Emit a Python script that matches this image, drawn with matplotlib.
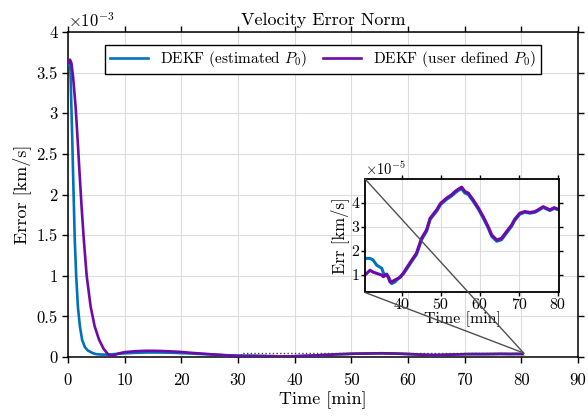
import numpy as np
import matplotlib
matplotlib.use('Agg')
import matplotlib.pyplot as plt
from matplotlib.patches import Rectangle, ConnectionPatch
from matplotlib.ticker import FormatStrFormatter

plt.rcParams['font.family'] = ['cmr10', 'DejaVu Serif']
plt.rcParams['mathtext.fontset'] = 'cm'
plt.rcParams['axes.unicode_minus'] = False

# early transient, values in 1e-3 km/s
t_est_early = [0.15, 0.3, 0.45, 0.6, 0.75, 0.9, 1.05, 1.2, 1.45, 1.75, 2.1, 2.5, 3.0, 3.5,
               4.3, 5.0, 6.0, 7.0, 8.0, 10.0, 12.0, 14.0, 16.0, 18.0, 20.0, 22.0, 25.0, 28.0]
e_est_early = [3.6, 3.65, 3.5, 3.08, 2.7, 2.26, 1.85, 1.44, 1.0, 0.62, 0.38, 0.21, 0.12, 0.08,
               0.05, 0.035, 0.03, 0.03, 0.035, 0.045, 0.052, 0.056, 0.056, 0.053, 0.048, 0.042, 0.032, 0.022]
t_usr_early = [0.15, 0.35, 0.6, 0.9, 1.35, 1.7, 2.05, 2.4, 2.8, 3.3, 4.0, 4.7, 5.5, 6.3,
               7.0, 7.6, 8.2, 9.0, 10.0, 12.0, 14.0, 16.0, 18.0, 20.0, 22.0, 25.0, 28.0]
e_usr_early = [3.62, 3.66, 3.62, 3.45, 3.08, 2.68, 2.26, 1.85, 1.44, 1.0, 0.62, 0.38, 0.21, 0.1,
               0.04, 0.01, 0.025, 0.045, 0.06, 0.072, 0.077, 0.075, 0.07, 0.062, 0.05, 0.035, 0.02]

# steady state part (zoomed), values in 1e-5 km/s
t_late = [30.6, 31.9, 32.7, 33.6, 34.9, 35.3, 35.7, 36.2, 36.6, 37.0, 37.4, 37.9, 38.3, 39.1, 39.6,
          40.4, 41.5, 42.6, 43.8, 45.1, 46.4, 47.3, 49.0, 50.0, 51.5, 52.8, 53.7, 54.5, 55.4,
          56.2, 57.1, 58.4, 59.7, 60.9, 62.2, 63.1, 64.4, 65.6, 66.9, 68.2, 69.0, 70.3, 71.6,
          72.9, 74.2, 75.0, 76.3, 77.2, 78.0, 79.1, 80.2]
e_usr_late = [1.0, 1.2, 1.12, 1.07, 1.0, 0.93, 0.98, 1.04, 0.9, 0.72, 0.7, 0.76, 0.8, 0.86, 0.9,
              1.07, 1.35, 1.62, 1.9, 2.52, 2.87, 3.35, 3.7, 3.97, 4.18, 4.32, 4.46, 4.55, 4.64,
              4.46, 4.39, 4.1, 3.77, 3.42, 3.0, 2.66, 2.45, 2.52, 2.8, 3.07, 3.31, 3.56, 3.63,
              3.59, 3.63, 3.7, 3.83, 3.76, 3.7, 3.79, 3.72]
e_est_late = [1.69, 1.69, 1.62, 1.41, 1.28, 1.1, 1.0, 0.97, 0.93, 0.8, 0.65, 0.68, 0.72, 0.85, 0.93,
              1.04, 1.3, 1.57, 1.85, 2.46, 2.82, 3.3, 3.65, 3.92, 4.13, 4.27, 4.4, 4.5, 4.57,
              4.4, 4.33, 4.04, 3.72, 3.37, 2.95, 2.6, 2.4, 2.46, 2.74, 3.02, 3.26, 3.52, 3.6,
              3.56, 3.6, 3.67, 3.8, 3.73, 3.67, 3.76, 3.7]

c_est = '#0072BD'
c_usr = '#6C0BA9'

t_est = np.array(t_est_early + t_late)
y_est = np.array(e_est_early + [v * 1e-2 for v in e_est_late])  # in 1e-3
t_usr = np.array(t_usr_early + t_late)
y_usr = np.array(e_usr_early + [v * 1e-2 for v in e_usr_late])

fig = plt.figure(figsize=(5.88, 4.16), dpi=100)
ax = fig.add_axes([0.1156, 0.1418, 0.8674, 0.7812])

ax.plot(t_est, y_est, color=c_est, lw=1.9, label='DEKF (estimated $P_0$)', zorder=3)
ax.plot(t_usr, y_usr, color=c_usr, lw=1.9, label='DEKF (user defined $P_0$)', zorder=3)

ax.set_xlim(0, 90)
ax.set_ylim(0, 4)
ax.set_xticks(np.arange(0, 91, 10))
ax.set_yticks(np.arange(0, 4.01, 0.5))
ax.yaxis.set_major_formatter(FormatStrFormatter('%g'))
ax.grid(True, color='#dcdcdc', lw=0.8)
ax.set_axisbelow(True)
ax.tick_params(direction='out', top=True, right=True, labelsize=12, length=4, width=1)
ax.tick_params(axis='x', pad=7)
for s in ax.spines.values():
    s.set_linewidth(1.1)
ax.set_xlabel('Time [min]', fontsize=13, labelpad=3)
ax.set_ylabel('Error [km/s]', fontsize=13, labelpad=4)
ax.set_title('Velocity Error Norm', fontsize=13, pad=5)
ax.text(0.0, 1.005, r'$\times10^{\mathrm{-3}}$', transform=ax.transAxes, fontsize=12,
        ha='left', va='bottom')

leg = ax.legend(loc='upper center', ncol=2, fontsize=11, frameon=True, fancybox=False,
                edgecolor='black', framealpha=1, handlelength=2.5, columnspacing=1.0,
                borderpad=0.3, bbox_to_anchor=(0.5, 0.985))
leg.get_frame().set_linewidth(1.0)

# zoom region rectangle
x0, x1 = 30.6, 80.4
y0, y1 = 0.28e-2, 4.98e-2
ax.add_patch(Rectangle((x0, y0), x1 - x0, y1 - y0, fill=False, ls=':', lw=1.0,
                       edgecolor='#404040', zorder=4))

ins = fig.add_axes([0.6207, 0.297, 0.3303, 0.273])
ins.plot(t_late, e_est_late, color=c_est, lw=2.2)
ins.plot(t_late, e_usr_late, color=c_usr, lw=2.2)
ins.set_xlim(x0, x1)
ins.set_ylim(0.28, 4.98)
ins.set_xticks([40, 50, 60, 70, 80])
ins.set_yticks([1, 2, 3, 4])
ins.grid(True, color='#dcdcdc', lw=0.8)
ins.tick_params(direction='out', top=True, right=True, labelsize=11.5, length=3, width=1, pad=1)
for s in ins.spines.values():
    s.set_linewidth(1.3)
ins.set_xlabel('Time [min]', fontsize=11.5, labelpad=0)
ins.set_ylabel('Err [km/s]', fontsize=12, labelpad=2)
ins.text(0.0, 1.005, r'$\times10^{\mathrm{-5}}$', transform=ins.transAxes, fontsize=10.5,
         ha='left', va='bottom')

for ya in (4.98, 0.28):
    con = ConnectionPatch(xyA=(x0, ya), coordsA=ins.transData,
                          xyB=(x1, y1), coordsB=ax.transData,
                          color='#505050', lw=1.0, zorder=10)
    fig.add_artist(con)

fig.savefig('out.png', dpi=100)
